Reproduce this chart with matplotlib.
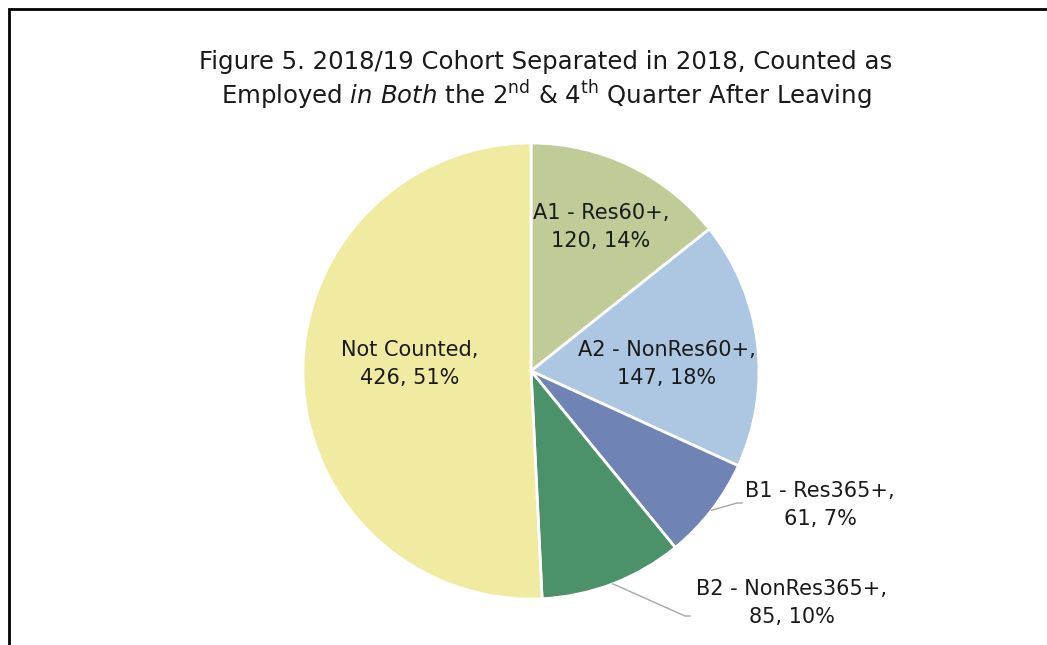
import numpy as np
import matplotlib.pyplot as plt
from matplotlib.patches import Rectangle

plt.rcParams['font.family'] = ['DejaVu Sans']
plt.rcParams['mathtext.fontset'] = 'custom'
plt.rcParams['mathtext.rm'] = 'DejaVu Sans'
plt.rcParams['mathtext.it'] = 'DejaVu Sans:italic'

# data
categories = ['A1 - Res60+', 'A2 - NonRes60+', 'B1 - Res365+', 'B2 - NonRes365+', 'Not Counted']
counts = [120, 147, 61, 85, 426]
colors = ['#bfcc97', '#adc6e2', '#6f84b5', '#4b9169', '#f0eba1']

W, H = 1047, 645
fig = plt.figure(figsize=(W / 100, H / 100), dpi=100)
ax = fig.add_axes([0, 0, 1, 1])

cx, cy, R = 531, H - 371, 228
wedges, _ = ax.pie(counts, colors=colors, startangle=90, counterclock=False,
                   center=(cx, cy), radius=R,
                   wedgeprops=dict(edgecolor='white', linewidth=2))
ax.set_xlim(0, W)
ax.set_ylim(0, H)
ax.set_aspect('equal')
ax.axis('off')

total = sum(counts)
pct = [round(c / total * 100) for c in counts]
labels = [f'{n},\n{c}, {p}%' for n, c, p in zip(categories, counts, pct)]

# label placement (pixel coords from top-left), leader for outside labels
label_xy = [(601, 227), (667, 364), (820, 505), (792, 603), (410, 364)]
outside = [False, False, True, True, False]
elbow = [None, None, (737, 503), (685, 616)]

for i, w in enumerate(wedges):
    lx, ly = label_xy[i]
    ax.text(lx, H - ly, labels[i], ha='center', va='center', fontsize=15,
            color='#1a1a1a', linespacing=1.5)
    if outside[i]:
        mid = np.deg2rad((w.theta1 + w.theta2) / 2)
        px, py = cx + R * np.cos(mid), cy + R * np.sin(mid)
        ex, ey = elbow[i]
        ax.plot([px, ex, ex + 5], [py, H - ey, H - ey], color='#a6a6a6', lw=1)

fig.text(546 / W, 1 - 62 / H, 'Figure 5. 2018/19 Cohort Separated in 2018, Counted as',
         ha='center', va='center', fontsize=17.6, color='#1a1a1a')
fig.text(546 / W, 1 - 95 / H,
         r'Employed $\mathit{in\ Both}$ the 2$^{\mathrm{nd}}$ & 4$^{\mathrm{th}}$ Quarter After Leaving',
         ha='center', va='center', fontsize=17.6, color='#1a1a1a')

# outer frame (only left and top edges visible in the crop)
fig.patches.append(Rectangle((9 / W, -0.1), 1.2, 1 - 9 / H + 0.1, transform=fig.transFigure,
                             fill=False, edgecolor='black', linewidth=2))

fig.savefig('out.png', dpi=100)
